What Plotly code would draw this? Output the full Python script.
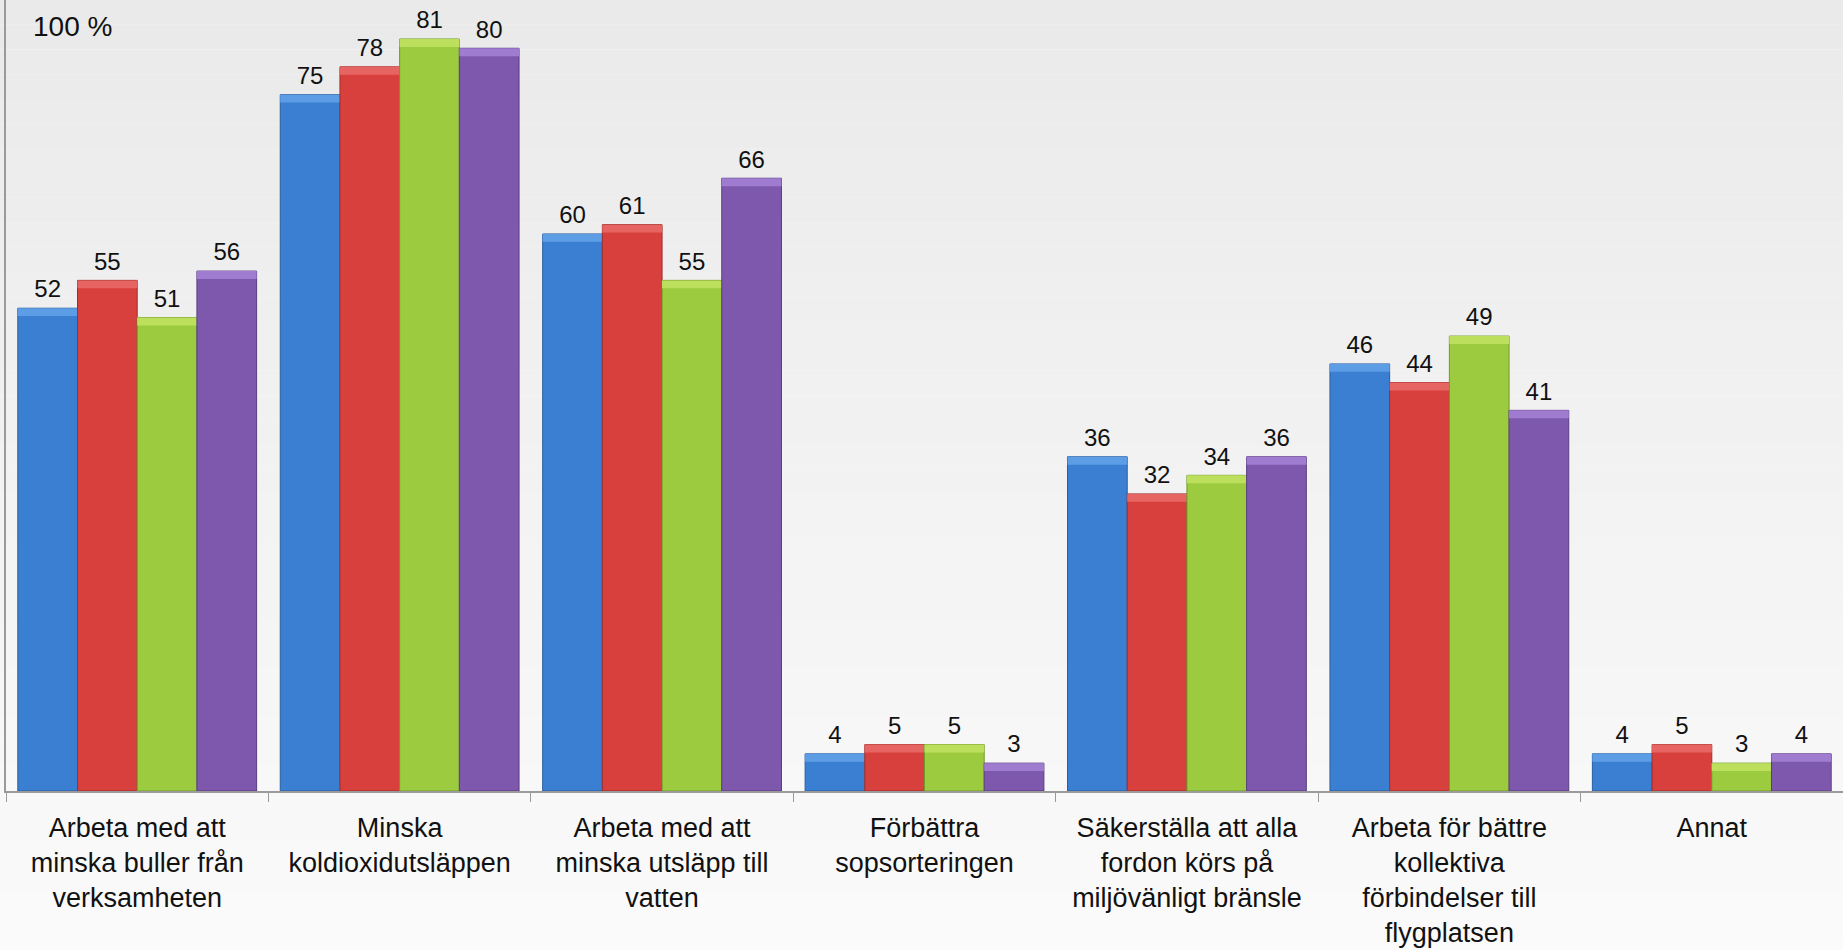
import plotly.graph_objects as go

categories = [
    "Arbeta med att<br>minska buller från<br>verksamheten",
    "Minska<br>koldioxidutsläppen",
    "Arbeta med att<br>minska utsläpp till<br>vatten",
    "Förbättra<br>sopsorteringen",
    "Säkerställa att alla<br>fordon körs på<br>miljövänligt bränsle",
    "Arbeta för bättre<br>kollektiva<br>förbindelser till<br>flygplatsen",
    "Annat",
]
series_names = ["Serie 1", "Serie 2", "Serie 3", "Serie 4"]
serie1 = [52, 75, 60, 4, 36, 46, 4]
serie2 = [55, 78, 61, 5, 32, 44, 5]
serie3 = [51, 81, 55, 5, 34, 49, 3]
serie4 = [56, 80, 66, 3, 36, 41, 4]
series_values = [serie1, serie2, serie3, serie4]

fill_colors = ["#3b7fd2", "#d8403d", "#9ccb3f", "#7e58ad"]
edge_colors = ["#2a5f9e", "#a02e2c", "#6f9a28", "#5a3d80"]
cap_colors = ["#5c9de6", "#e66461", "#bddf5e", "#a07cd0"]
CAP = 0.85  # bevel highlight thickness in value units

GAP = 0.09
fig = go.Figure()
for i, (name, vals) in enumerate(zip(series_names, series_values)):
    fig.add_trace(go.Bar(
        x=categories, y=vals, name=name,
        marker=dict(color=fill_colors[i], line=dict(color=edge_colors[i], width=1)),
        offsetgroup=str(i), hoverinfo="x+y",
    ))
    fig.add_trace(go.Bar(
        x=categories, y=[CAP] * len(vals), base=[v - CAP for v in vals],
        marker=dict(color=cap_colors[i], line=dict(width=0)),
        offsetgroup=str(i), hoverinfo="skip", showlegend=False,
    ))
for i, (name, vals) in enumerate(zip(series_names, series_values)):
    fig.add_trace(go.Scatter(
        x=categories, y=vals, mode="markers+text", text=[str(v) for v in vals],
        textposition="top center", offsetgroup=str(i),
        marker=dict(size=6, opacity=0), showlegend=False, hoverinfo="skip",
        textfont=dict(family="Liberation Sans, Arial", size=24, color="#111111"),
    ))

# background gradient (stepped)
shapes = []
N = 40
for k in range(N):
    t = k / (N - 1)
    c = int(round(0xea + (0xfb - 0xea) * t))
    shapes.append(dict(type="rect", xref="paper", yref="paper",
                       x0=-0.01, x1=1.01, y0=1 - (k + 1) / N * 1.25, y1=1 - k / N * 1.25,
                       fillcolor=f"rgb({c},{c},{c})", line=dict(width=0), layer="below"))

fig.update_layout(
    width=1843, height=950,
    margin=dict(l=6, r=0, t=0, b=159),
    barmode="group", bargap=GAP, bargroupgap=0,
    scattermode="group", scattergap=GAP,
    showlegend=False,
    paper_bgcolor="#fbfbfb", plot_bgcolor="rgba(0,0,0,0)",
    font=dict(family="Liberation Sans, Arial", color="#111111"),
    shapes=shapes,
    annotations=[dict(text="100 %", xref="paper", yref="paper", x=0.0136, y=0.967,
                      xanchor="left", yanchor="middle", showarrow=False,
                      font=dict(size=28, color="#111111"))],
)
fig.update_xaxes(
    automargin=False,
    showline=True, linecolor="#9a9a9a", linewidth=1.5,
    ticks="outside", tickson="boundaries", ticklen=9, tickcolor="#9a9a9a",
    tickfont=dict(size=27, color="#111111"), ticklabelstandoff=12,
    showgrid=False,
)
fig.update_yaxes(
    automargin=False,
    range=[0, 85.2], showline=True, linecolor="#9a9a9a", linewidth=1.5,
    showticklabels=False, showgrid=False, zeroline=False, ticks="",
)

fig.write_html("out.html", config={"displayModeBar": False},
               post_script="document.body.style.margin='0';document.body.style.overflow='hidden';")
